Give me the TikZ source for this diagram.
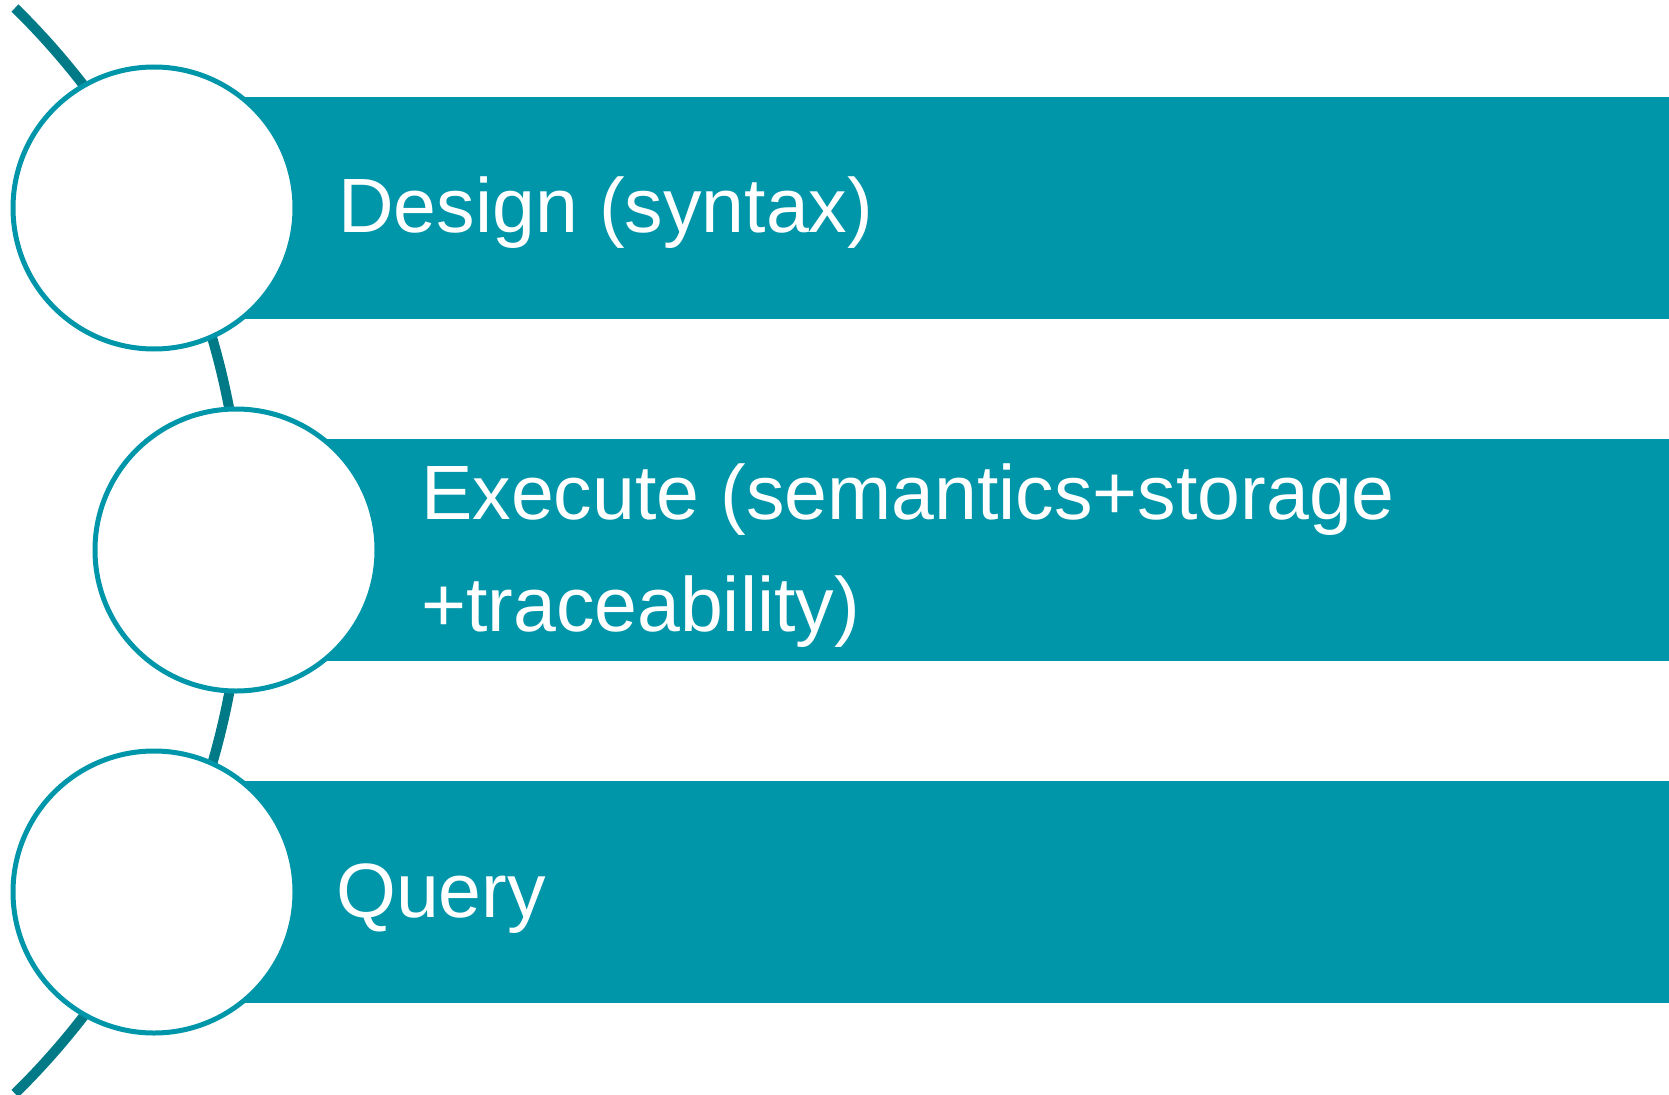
\documentclass[tikz,border=0pt]{standalone}
\usepackage{fontspec}
\setmainfont{Liberation Sans}
\definecolor{barteal}{RGB}{0,150,170}
\definecolor{arcteal}{RGB}{0,122,135}
\tikzset{
  stagebar/.style={fill=barteal},
  stagecircle/.style={circle, draw=barteal, fill=white, line width=5pt, minimum size=282pt, inner sep=0pt},
  stagetext/.style={text=white, anchor=base west, inner sep=0pt, font=\fontsize{77}{112}\selectfont},
  spine/.style={draw=arcteal, line width=10pt}
}
\begin{document}
\begin{tikzpicture}[x=1pt,y=-1pt]
\useasboundingbox (0,0) rectangle (1669,1094);
% spine arc
\coordinate (spinetop) at (15,8);
\path[spine] (spinetop) arc[start angle=45.5, end angle=-45.5, radius=761pt];
% bars
\fill[stagebar] (155,97) rectangle (1669,319);
\fill[stagebar] (237,439) rectangle (1669,661);
\fill[stagebar] (155,781) rectangle (1669,1003);
% circles
\node[stagecircle] (c1) at (154,208) {};
\node[stagecircle] (c2) at (236,550) {};
\node[stagecircle] (c3) at (154,892) {};
% texts
\node[stagetext] (t1) at (338,232) {Design (syntax)};
\node[stagetext] (t2a) at (421,519) {Execute (semantics+storage};
\node[stagetext] (t2b) at (421,631) {+traceability)};
\node[stagetext] (t3) at (336,917) {Query};
\end{tikzpicture}
\end{document}
